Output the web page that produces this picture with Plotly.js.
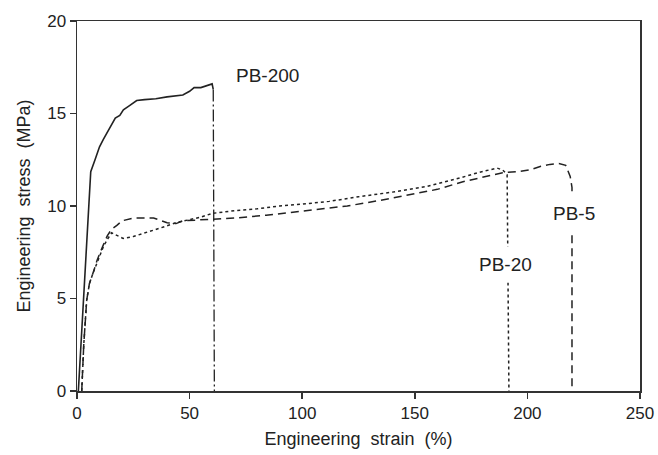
<!DOCTYPE html>
<html>
<head>
<meta charset="utf-8">
<script src="https://cdn.plot.ly/plotly-3.0.1.min.js"></script>
<style>html,body{margin:0;padding:0;background:#fff;}#chart{width:658px;height:455px;}</style>
</head>
<body>
<div id="chart"></div>
<script>
// PB-200 (solid curve, dash-dot drop at failure)
const pb200Strain = [0.6, 1.5, 2.8, 3.5, 4.3, 5, 6.1, 8, 10, 11.7, 14, 17, 19, 20.6, 23, 26.5, 30, 35, 40, 44, 47, 50, 52, 55, 58, 60, 60.5];
const pb200Stress = [0, 2, 4.9, 6.5, 8.5, 10, 11.85, 12.5, 13.2, 13.6, 14.1, 14.75, 14.9, 15.2, 15.4, 15.7, 15.75, 15.8, 15.9, 15.95, 16.0, 16.2, 16.4, 16.4, 16.5, 16.6, 16.3];
const pb200FailStrain = 61;
const pb200FailStress = 0;

// PB-20 (dotted)
const pb20Strain = [2.1, 3, 4.3, 5.5, 7.2, 9, 11.7, 13.5, 15.4, 17, 20.5, 25, 32, 38, 44, 50, 55, 60, 70, 80, 90, 100, 112, 125, 140, 155, 165, 171, 178, 183, 186.5, 189, 191, 191.8];
const pb20Stress = [0, 2.5, 4.9, 5.8, 6.4, 7.0, 7.8, 8.2, 8.55, 8.45, 8.25, 8.35, 8.6, 8.85, 9.1, 9.25, 9.4, 9.6, 9.75, 9.85, 10.0, 10.1, 10.25, 10.5, 10.75, 11.05, 11.35, 11.55, 11.8, 11.95, 12.05, 11.95, 11.7, 0];

// PB-5 (dashed)
const pb5Strain = [2.1, 3, 4.3, 5.5, 7.2, 9, 11.7, 13.5, 15.4, 17.7, 20, 25, 30, 34, 40, 44, 47, 55, 60.5, 70, 84, 95, 106, 120, 134.5, 150, 160, 171, 180, 189, 195, 201, 206, 210, 214, 217, 219, 219.8, 219.8];
const pb5Stress = [0, 2.5, 4.9, 5.8, 6.4, 7.1, 7.9, 8.4, 8.75, 8.95, 9.2, 9.35, 9.35, 9.35, 9.1, 9.05, 9.2, 9.25, 9.3, 9.35, 9.5, 9.65, 9.8, 10.0, 10.3, 10.65, 10.9, 11.3, 11.55, 11.8, 11.85, 11.95, 12.15, 12.25, 12.3, 12.2, 11.6, 11.0, 0];

// Labels
const labelText = ['PB-200', 'PB-20', 'PB-5'];
const labelX = [84.4, 190.3, 220.7];
const labelY = [17.03, 6.86, 9.62];

const xTicks = [0, 50, 100, 150, 200, 250];
const yTicks = [0, 5, 10, 15, 20];

const ink = '#222';
const fontFam = 'Liberation Sans, Arial, sans-serif';

const traces = [
  {x: pb200Strain, y: pb200Stress, mode: 'lines', line: {color: ink, width: 1.6, dash: 'solid'}},
  {x: [pb200Strain[pb200Strain.length - 1], pb200FailStrain], y: [pb200Stress[pb200Stress.length - 1], pb200FailStress],
   mode: 'lines', line: {color: ink, width: 1.3, dash: '12px,3px,2px,3px'}},
  {x: pb20Strain, y: pb20Stress, mode: 'lines', line: {color: ink, width: 1.5, dash: 'dot'}},
  {x: pb5Strain, y: pb5Stress, mode: 'lines', line: {color: ink, width: 1.5, dash: '8px,5px'}}
];

const annotations = labelText.map((t, i) => ({
  x: labelX[i], y: labelY[i], xref: 'x', yref: 'y', text: t, showarrow: false,
  font: {family: fontFam, size: 19, color: ink},
  bgcolor: i === 0 ? 'rgba(0,0,0,0)' : '#ffffff', borderpad: i === 0 ? 0 : 7
}));

const axisCommon = {
  showgrid: false, zeroline: false, showline: true, mirror: true,
  linecolor: '#333', linewidth: 1.5, ticks: 'outside', ticklen: 6, tickwidth: 1.5, tickcolor: '#333',
  tickfont: {family: fontFam, size: 17, color: ink}
};

const layout = {
  width: 658, height: 455,
  margin: {l: 77, r: 18, t: 21, b: 64},
  paper_bgcolor: '#fff', plot_bgcolor: '#fff',
  showlegend: false,
  xaxis: Object.assign({}, axisCommon, {
    range: [0, 250], tickvals: xTicks, ticktext: xTicks.map(String),
    title: {text: 'Engineering\u00a0 strain\u00a0 (%)', font: {family: fontFam, size: 18, color: ink}, standoff: 10}
  }),
  yaxis: Object.assign({}, axisCommon, {
    range: [0, 20], tickvals: yTicks, ticktext: yTicks.map(String),
    title: {text: 'Engineering\u00a0 stress\u00a0 (MPa)', font: {family: fontFam, size: 18, color: ink}, standoff: 12}
  }),
  annotations: annotations
};

Plotly.newPlot('chart', traces, layout, {displayModeBar: false, staticPlot: true});
</script>
</body>
</html>
